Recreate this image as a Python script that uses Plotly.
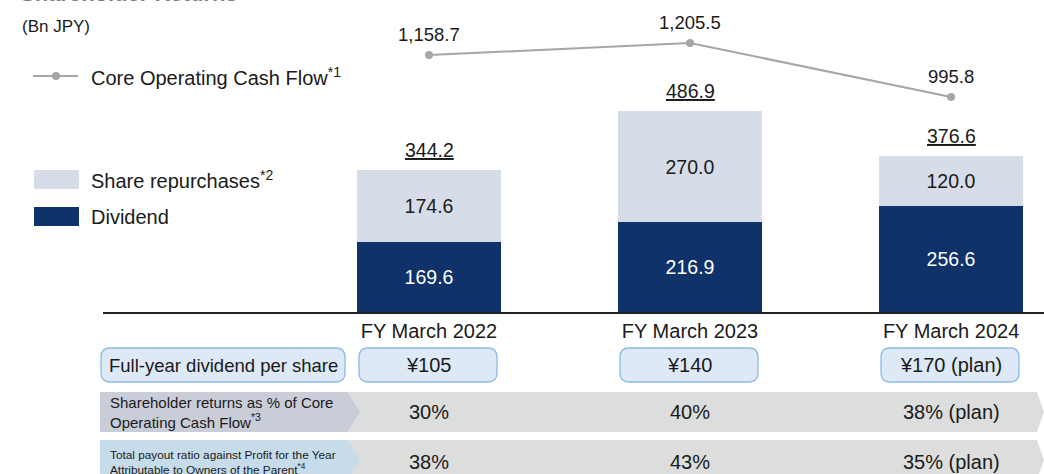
import plotly.graph_objects as go

categories = ["FY March 2022", "FY March 2023", "FY March 2024"]
dividend = [169.6, 216.9, 256.6]
repurchases = [174.6, 270.0, 120.0]
core_ocf = [1158.7, 1205.5, 995.8]
dps_labels = ["¥105", "¥140", "¥170 (plan)"]
returns_pct = ["30%", "40%", "38% (plan)"]
payout_ratio = ["38%", "43%", "35% (plan)"]

W, H = 1044, 474
L, R, T, B = 103, 0, 0, 162
PW, PH = W - L - R, H - T - B
FONT = "Liberation Sans"
DARK = "#1a1a1a"
NAVY = "#10326a"
LIGHT = "#d6dce8"
GREYLINE = "#a6a6a6"

xs = list(range(len(categories)))
totals = [round(d + r, 1) for d, r in zip(dividend, repurchases)]


def px(x):
    return (x - L) / PW


def py(y):
    return (H - B - y) / PH


fig = go.Figure()
fig.add_trace(go.Bar(x=xs, y=dividend, marker=dict(color=NAVY, line=dict(width=0)), width=0.552,
                     text=[f"{v:.1f}" for v in dividend], textposition="inside",
                     insidetextanchor="middle", textangle=0,
                     textfont=dict(color="white", size=19.5, family=FONT), hoverinfo="skip"))
fig.add_trace(go.Bar(x=xs, y=repurchases, marker=dict(color=LIGHT, line=dict(width=0)), width=0.552,
                     text=[f"{v:.1f}" for v in repurchases], textposition="inside",
                     insidetextanchor="middle", textangle=0,
                     textfont=dict(color=DARK, size=19.5, family=FONT), hoverinfo="skip"))
fig.add_trace(go.Scatter(x=xs, y=core_ocf, yaxis="y2", mode="lines+markers",
                         line=dict(color=GREYLINE, width=2), marker=dict(color=GREYLINE, size=8),
                         hoverinfo="skip"))

ann = []
for x, t in zip(xs, totals):
    ann.append(dict(x=x, y=t, xref="x", yref="y", text=f"<u>{t:.1f}</u>", showarrow=False,
                    yanchor="bottom", yshift=7, font=dict(size=19.5, color=DARK, family=FONT)))
for x, v in zip(xs, core_ocf):
    ann.append(dict(x=x, y=v, xref="x", yref="y2", text=f"{v:,.1f}", showarrow=False,
                    yanchor="bottom", yshift=8, font=dict(size=18.5, color=DARK, family=FONT)))

shapes = []


def poly(points, fill):
    d = "M " + " L ".join(f"{px(a):.5f},{py(b):.5f}" for a, b in points) + " Z"
    shapes.append(dict(type="path", path=d, xref="paper", yref="paper", fillcolor=fill, layer="below",
                       line=dict(width=0)))


def rrect(x0, y0, x1, y1, r, fill, line):
    p = [
        f"M {px(x0 + r):.5f},{py(y0):.5f}",
        f"L {px(x1 - r):.5f},{py(y0):.5f}",
        f"Q {px(x1):.5f},{py(y0):.5f} {px(x1):.5f},{py(y0 + r):.5f}",
        f"L {px(x1):.5f},{py(y1 - r):.5f}",
        f"Q {px(x1):.5f},{py(y1):.5f} {px(x1 - r):.5f},{py(y1):.5f}",
        f"L {px(x0 + r):.5f},{py(y1):.5f}",
        f"Q {px(x0):.5f},{py(y1):.5f} {px(x0):.5f},{py(y1 - r):.5f}",
        f"L {px(x0):.5f},{py(y0 + r):.5f}",
        f"Q {px(x0):.5f},{py(y0):.5f} {px(x0 + r):.5f},{py(y0):.5f}",
        "Z",
    ]
    shapes.append(dict(type="path", path=" ".join(p), xref="paper", yref="paper",
                       fillcolor=fill, line=dict(color=line, width=1.3)))


def ptext(x, y, text, size=17, xanchor="center", align="center", color=DARK, family=FONT):
    ann.append(dict(x=px(x), y=py(y), xref="paper", yref="paper", text=text, showarrow=False,
                    xanchor=xanchor, yanchor="middle", align=align,
                    font=dict(size=size, color=color, family=family)))


# row 1: dividend per share
BOXF, BOXL = "#dde9f6", "#8dbbe4"
rrect(101, 348, 345, 382, 9, BOXF, BOXL)
ptext(223, 365, "Full-year dividend per share", size=18.5)
centers_px = [429, 690, 951]
for c, t in zip(centers_px, dps_labels):
    rrect(c - 70, 348, c + 68, 382, 9, BOXF, BOXL)
    ptext(c, 365, t, size=20)

# row 2
poly([(100, 392), (1037, 392), (1044, 412), (1037, 432), (100, 432)], "#dcdddd")
poly([(100, 392), (347, 392), (360, 412), (347, 432), (100, 432)], "#c8cdd7")
ptext(108, 412, "Shareholder returns as % of Core<br>Operating Cash Flow<sup>*3</sup>", size=15,
      xanchor="left", align="left")
for c, t in zip(centers_px, returns_pct):
    ptext(c, 412, t, size=20)

# row 3
poly([(100, 440), (1037, 440), (1044, 460), (1037, 480), (100, 480)], "#dcdddd")
poly([(100, 440), (347, 440), (360, 460), (347, 480), (100, 480)], "#c6dcea")
ptext(108, 462, "Total payout ratio against Profit for the Year<br>Attributable to Owners of the Parent<sup>*4</sup>",
      size=11.8, xanchor="left", align="left")
for c, t in zip(centers_px, payout_ratio):
    ptext(c, 462, t, size=20)

# legend
shapes.append(dict(type="line", xref="paper", yref="paper", x0=px(33), x1=px(78), y0=py(76), y1=py(76),
                   line=dict(color=GREYLINE, width=2)))
shapes.append(dict(type="circle", xref="paper", yref="paper", x0=px(52), x1=px(60), y0=py(72), y1=py(80),
                   fillcolor=GREYLINE, line=dict(width=0)))
ptext(89, 76, "Core Operating Cash Flow<sup>*1</sup>", size=20, xanchor="left")
shapes.append(dict(type="rect", xref="paper", yref="paper", x0=px(34), x1=px(79), y0=py(170), y1=py(189),
                   fillcolor=LIGHT, line=dict(width=0)))
ptext(89, 180, "Share repurchases<sup>*2</sup>", size=20, xanchor="left")
shapes.append(dict(type="rect", xref="paper", yref="paper", x0=px(34), x1=px(79), y0=py(207), y1=py(226),
                   fillcolor=NAVY, line=dict(width=0)))
ptext(89, 217, "Dividend", size=20, xanchor="left")

ptext(20, 26, "(Bn JPY)", size=17, xanchor="left")
# clipped title
ann.append(dict(x=px(18), y=py(8), xref="paper", yref="paper", text="<b>Shareholder Returns</b>",
                showarrow=False, xanchor="left", yanchor="bottom",
                font=dict(size=22, color="#7f7f7f", family=FONT)))

fig.update_layout(
    width=W, height=H, margin=dict(l=L, r=R, t=T, b=B),
    barmode="stack", bargap=0, showlegend=False,
    paper_bgcolor="white", plot_bgcolor="white",
    xaxis=dict(range=[-1.249, 2.356], tickmode="array", tickvals=xs, ticktext=categories,
               showline=True, linecolor="#222222", linewidth=2, showgrid=False, zeroline=False,
               ticks="", tickfont=dict(size=20, color=DARK, family=FONT), ticklabelstandoff=0),
    yaxis=dict(range=[0, 755.4], visible=False, showgrid=False, zeroline=False),
    yaxis2=dict(range=[160.8, 1372.4], overlaying="y", visible=False, showgrid=False, zeroline=False),
    annotations=ann, shapes=shapes,
    font=dict(family=FONT, color=DARK),
)

fig.write_html("out.html", config={"displayModeBar": False},
               post_script="document.body.style.margin='0';document.body.style.overflow='hidden';")
